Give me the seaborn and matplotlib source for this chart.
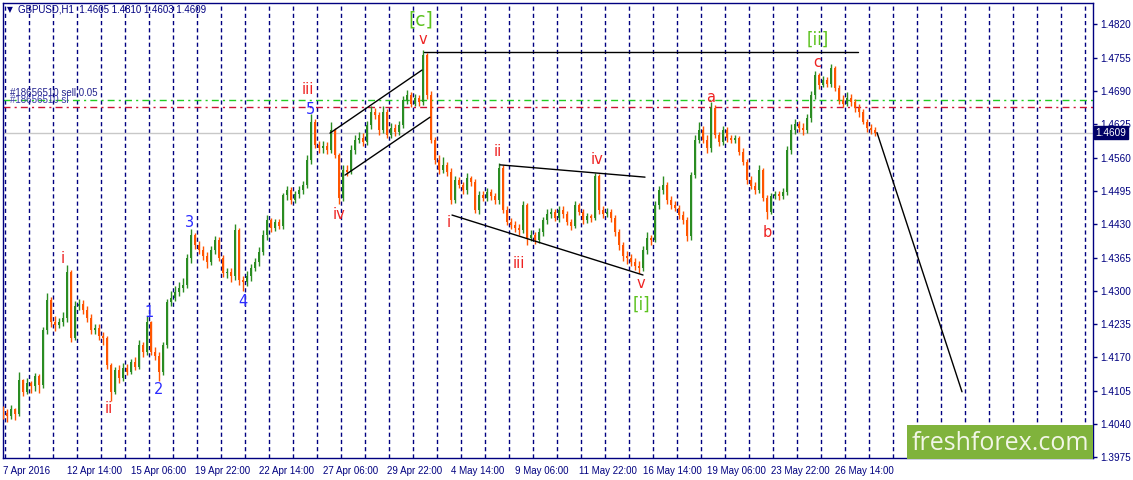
import numpy as np
import pandas as pd
import matplotlib
matplotlib.use("Agg")
import matplotlib.pyplot as plt
from matplotlib.patches import Rectangle
from matplotlib.transforms import blended_transform_factory
import seaborn as sns

# ---------------- data ----------------
# consecutive 4-hour blocks of the GBPUSD H1 chart: close, high, low
closes = [
    1.4062, 1.4056, 1.4069, 1.4060, 1.4126, 1.4103, 1.4120, 1.4114, 1.4134, 1.4116,
    1.4224, 1.4282, 1.4239, 1.4233, 1.4239, 1.4247, 1.4337, 1.4208, 1.4271, 1.4274,
    1.4263, 1.4247, 1.4224, 1.4228, 1.4212, 1.4208, 1.4155, 1.4103, 1.4146, 1.4130,
    1.4149, 1.4142, 1.4161, 1.4151, 1.4194, 1.4181, 1.4239, 1.4181, 1.4173, 1.4142,
    1.4194, 1.4278, 1.4286, 1.4298, 1.4306, 1.4311, 1.4364, 1.4409, 1.4390, 1.4380,
    1.4368, 1.4356, 1.4380, 1.4399, 1.4364, 1.4335, 1.4337, 1.4329, 1.4419, 1.4321,
    1.4317, 1.4329, 1.4345, 1.4356, 1.4376, 1.4409, 1.4438, 1.4423, 1.4434, 1.4427,
    1.4487, 1.4497, 1.4477, 1.4489, 1.4497, 1.4507, 1.4555, 1.4630, 1.4585, 1.4579,
    1.4583, 1.4575, 1.4614, 1.4565, 1.4481, 1.4536, 1.4532, 1.4575, 1.4595, 1.4598,
    1.4591, 1.4624, 1.4649, 1.4643, 1.4614, 1.4649, 1.4604, 1.4618, 1.4610, 1.4624,
    1.4673, 1.4682, 1.4665, 1.4677, 1.4669, 1.4760, 1.4682, 1.4595, 1.4555, 1.4536,
    1.4546, 1.4532, 1.4477, 1.4516, 1.4507, 1.4497, 1.4520, 1.4513, 1.4458, 1.4487,
    1.4481, 1.4493, 1.4485, 1.4477, 1.4540, 1.4458, 1.4434, 1.4429, 1.4423, 1.4419,
    1.4468, 1.4403, 1.4409, 1.4399, 1.4415, 1.4438, 1.4450, 1.4454, 1.4442, 1.4458,
    1.4450, 1.4434, 1.4427, 1.4468, 1.4454, 1.4438, 1.4446, 1.4442, 1.4524, 1.4458,
    1.4450, 1.4454, 1.4442, 1.4415, 1.4390, 1.4368, 1.4364, 1.4356, 1.4349, 1.4345,
    1.4380, 1.4403, 1.4399, 1.4468, 1.4497, 1.4507, 1.4477, 1.4468, 1.4462, 1.4448,
    1.4438, 1.4407, 1.4526, 1.4595, 1.4614, 1.4595, 1.4579, 1.4657, 1.4604, 1.4591,
    1.4614, 1.4598, 1.4595, 1.4598, 1.4571, 1.4552, 1.4516, 1.4505, 1.4497, 1.4536,
    1.4481, 1.4454, 1.4485, 1.4489, 1.4485, 1.4493, 1.4575, 1.4614, 1.4626, 1.4618,
    1.4614, 1.4637, 1.4682, 1.4721, 1.4702, 1.4712, 1.4704, 1.4735, 1.4696, 1.4673,
    1.4665, 1.4677, 1.4669, 1.4657, 1.4649, 1.4630, 1.4618, 1.4614, 1.4609,
]
highs = [
    1.4075, 1.4070, 1.4078, 1.4072, 1.4142, 1.4128, 1.4130, 1.4125, 1.4140, 1.4138,
    1.4230, 1.4295, 1.4288, 1.4250, 1.4248, 1.4258, 1.4350, 1.4340, 1.4280, 1.4285,
    1.4282, 1.4270, 1.4255, 1.4236, 1.4235, 1.4220, 1.4212, 1.4160, 1.4152, 1.4155,
    1.4160, 1.4158, 1.4168, 1.4170, 1.4205, 1.4200, 1.4250, 1.4242, 1.4190, 1.4180,
    1.4200, 1.4285, 1.4300, 1.4310, 1.4318, 1.4325, 1.4372, 1.4420, 1.4412, 1.4398,
    1.4388, 1.4375, 1.4388, 1.4408, 1.4405, 1.4370, 1.4345, 1.4345, 1.4430, 1.4422,
    1.4330, 1.4338, 1.4352, 1.4365, 1.4385, 1.4418, 1.4448, 1.4442, 1.4440, 1.4440,
    1.4492, 1.4505, 1.4502, 1.4495, 1.4505, 1.4515, 1.4565, 1.4645, 1.4635, 1.4592,
    1.4592, 1.4590, 1.4630, 1.4618, 1.4570, 1.4545, 1.4545, 1.4585, 1.4605, 1.4610,
    1.4608, 1.4632, 1.4660, 1.4656, 1.4650, 1.4660, 1.4655, 1.4628, 1.4625, 1.4632,
    1.4680, 1.4692, 1.4688, 1.4684, 1.4682, 1.4770, 1.4765, 1.4690, 1.4600, 1.4565,
    1.4562, 1.4552, 1.4540, 1.4525, 1.4522, 1.4512, 1.4530, 1.4525, 1.4518, 1.4495,
    1.4495, 1.4500, 1.4498, 1.4492, 1.4550, 1.4545, 1.4465, 1.4442, 1.4436, 1.4430,
    1.4475, 1.4472, 1.4418, 1.4415, 1.4422, 1.4445, 1.4460, 1.4462, 1.4460, 1.4466,
    1.4465, 1.4456, 1.4440, 1.4476, 1.4472, 1.4460, 1.4452, 1.4450, 1.4530, 1.4528,
    1.4465, 1.4462, 1.4460, 1.4448, 1.4420, 1.4395, 1.4378, 1.4372, 1.4365, 1.4358,
    1.4388, 1.4415, 1.4410, 1.4475, 1.4505, 1.4525, 1.4512, 1.4485, 1.4475, 1.4468,
    1.4455, 1.4445, 1.4532, 1.4605, 1.4630, 1.4622, 1.4605, 1.4668, 1.4662, 1.4610,
    1.4622, 1.4620, 1.4604, 1.4605, 1.4603, 1.4578, 1.4558, 1.4525, 1.4512, 1.4545,
    1.4540, 1.4488, 1.4492, 1.4495, 1.4494, 1.4500, 1.4582, 1.4625, 1.4636, 1.4632,
    1.4628, 1.4645, 1.4690, 1.4730, 1.4725, 1.4720, 1.4718, 1.4742, 1.4738, 1.4702,
    1.4682, 1.4688, 1.4685, 1.4675, 1.4665, 1.4655, 1.4636, 1.4625, 1.4620,
]
lows = [
    1.4050, 1.4045, 1.4050, 1.4048, 1.4055, 1.4095, 1.4098, 1.4100, 1.4105, 1.4100,
    1.4110, 1.4215, 1.4230, 1.4222, 1.4228, 1.4232, 1.4240, 1.4200, 1.4205, 1.4262,
    1.4255, 1.4240, 1.4215, 1.4215, 1.4205, 1.4195, 1.4148, 1.4085, 1.4098, 1.4120,
    1.4125, 1.4135, 1.4138, 1.4145, 1.4148, 1.4170, 1.4175, 1.4175, 1.4165, 1.4125,
    1.4135, 1.4188, 1.4270, 1.4280, 1.4290, 1.4298, 1.4305, 1.4355, 1.4382, 1.4372,
    1.4360, 1.4345, 1.4350, 1.4372, 1.4358, 1.4328, 1.4325, 1.4318, 1.4322, 1.4312,
    1.4300, 1.4310, 1.4320, 1.4338, 1.4348, 1.4370, 1.4400, 1.4415, 1.4416, 1.4420,
    1.4420, 1.4478, 1.4470, 1.4472, 1.4482, 1.4490, 1.4500, 1.4548, 1.4578, 1.4570,
    1.4570, 1.4568, 1.4570, 1.4560, 1.4470, 1.4475, 1.4525, 1.4528, 1.4568, 1.4588,
    1.4582, 1.4585, 1.4615, 1.4635, 1.4605, 1.4608, 1.4598, 1.4598, 1.4602, 1.4604,
    1.4618, 1.4665, 1.4658, 1.4660, 1.4660, 1.4662, 1.4675, 1.4588, 1.4548, 1.4528,
    1.4530, 1.4525, 1.4470, 1.4472, 1.4500, 1.4490, 1.4490, 1.4505, 1.4452, 1.4450,
    1.4475, 1.4476, 1.4478, 1.4470, 1.4470, 1.4452, 1.4428, 1.4420, 1.4415, 1.4410,
    1.4412, 1.4390, 1.4398, 1.4392, 1.4393, 1.4408, 1.4430, 1.4442, 1.4436, 1.4435,
    1.4442, 1.4428, 1.4418, 1.4422, 1.4448, 1.4430, 1.4432, 1.4435, 1.4438, 1.4450,
    1.4442, 1.4444, 1.4435, 1.4408, 1.4380, 1.4358, 1.4352, 1.4348, 1.4340, 1.4335,
    1.4338, 1.4372, 1.4390, 1.4395, 1.4460, 1.4490, 1.4470, 1.4460, 1.4455, 1.4440,
    1.4430, 1.4398, 1.4400, 1.4520, 1.4588, 1.4588, 1.4570, 1.4572, 1.4598, 1.4582,
    1.4585, 1.4590, 1.4588, 1.4588, 1.4565, 1.4545, 1.4508, 1.4498, 1.4490, 1.4492,
    1.4475, 1.4440, 1.4450, 1.4480, 1.4478, 1.4480, 1.4488, 1.4568, 1.4606, 1.4610,
    1.4605, 1.4608, 1.4630, 1.4675, 1.4695, 1.4698, 1.4698, 1.4698, 1.4690, 1.4665,
    1.4658, 1.4660, 1.4660, 1.4650, 1.4640, 1.4625, 1.4610, 1.4606, 1.4603,
]
first_open = 1.4066
hours_per_candle = 4

date_labels = ["7 Apr 2016", "12 Apr 14:00", "15 Apr 06:00", "19 Apr 22:00",
               "22 Apr 14:00", "27 Apr 06:00", "29 Apr 22:00", "4 May 14:00",
               "9 May 06:00", "11 May 22:00", "16 May 14:00", "19 May 06:00",
               "23 May 22:00", "26 May 14:00"]
date_label_bars = [0, 64, 128, 192, 256, 320, 384, 448, 512, 576, 640, 704, 768, 832]
price_ticks = [1.3975, 1.4040, 1.4105, 1.4170, 1.4235, 1.4300, 1.4365,
               1.4430, 1.4495, 1.4560, 1.4625, 1.4690, 1.4755, 1.4820]
day_separator_bars = list(range(2, 1090, 24))

order_price = 1.4673
sl_price = 1.4659
last_price = 1.4609
title_text = "GBPUSD,H1  1.4605 1.4810 1.4603 1.4609"

# wave mark-up lines: (bar, price) pairs
top_line_bars = [421, 855]
top_line_prices = [1.4766, 1.4766]
channel_up_bars = [327, 419]
channel_up_prices = [1.4608, 1.4731]
channel_lo_bars = [342, 427]
channel_lo_prices = [1.4526, 1.4639]
tri_up_bars = [497, 642]
tri_up_prices = [1.4546, 1.4522]
tri_lo_bars = [449, 640]
tri_lo_prices = [1.4448, 1.4331]
proj_bars = [874, 959]
proj_prices = [1.4609, 1.4103]

wave_texts = ["[c]", "v", "iii", "5", "iv", "i", "ii", "1", "2", "3", "4",
              "i", "ii", "iii", "iv", "v", "[i]", "a", "b", "c", "[ii]"]
wave_bars = [418, 420, 305, 307, 336, 60, 106, 146, 156, 187, 240,
             446, 495, 516, 594, 638, 638, 708, 764, 814, 815]
wave_prices = [1.4829, 1.4790, 1.4694, 1.4655, 1.4450, 1.4364, 1.4071, 1.4257,
               1.4108, 1.4434, 1.4280, 1.4434, 1.4573, 1.4353, 1.4556, 1.4315,
               1.4272, 1.4678, 1.4413, 1.4745, 1.4790]

# ---------------- styling ----------------
NAVY = "#000080"
UP = "#2a8c22"
DOWN = "#ff5500"
RED = "#ee2222"
BLUE = "#2b2bff"
LGREEN = "#5cc21e"
wave_colors = {"[c]": LGREEN, "[i]": LGREEN, "[ii]": LGREEN,
               "1": BLUE, "2": BLUE, "3": BLUE, "4": BLUE, "5": BLUE}
wave_sizes = {"[c]": 13.5, "[i]": 12, "[ii]": 12}

sns.set_theme(style="white")
plt.rcParams["font.family"] = ["Liberation Sans", "DejaVu Sans"]

fig = plt.figure(figsize=(11.33, 4.8), dpi=100)
ax = fig.add_axes([3 / 1133, 22 / 480, 1090 / 1133, 455 / 480])
ax.set_facecolor("white")

# candles
df = pd.DataFrame({"close": closes, "high": highs, "low": lows})
df["open"] = [first_open] + closes[:-1]
df["bar"] = np.arange(len(df)) * hours_per_candle
diff = df["close"] - df["open"]
df["body"] = diff.where(diff.abs() > 0.00008, 0.00008)
df["color"] = np.where(df["close"] >= df["open"], UP, DOWN)

# day separators
for b in day_separator_bars:
    ax.axvline(b, color=NAVY, lw=1.0, dashes=(3, 2.2), zorder=1)

ax.axhline(last_price, color="#c8c8c8", lw=1.0, zorder=1)
ax.axhline(order_price, color="#22cc22", lw=1.0, dashes=(5, 3, 1.5, 3), zorder=1)
ax.axhline(sl_price, color="#cc1133", lw=1.0, dashes=(5, 3, 1.5, 3), zorder=1)

ax.vlines(df["bar"], df["low"], df["high"], colors=df["color"], lw=1.0, zorder=3)
ax.bar(df["bar"], df["body"], bottom=df["open"], width=2.8, color=df["color"],
       linewidth=0, zorder=3)

# mark-up lines
for xs, ys in [(top_line_bars, top_line_prices), (channel_up_bars, channel_up_prices),
               (channel_lo_bars, channel_lo_prices), (tri_up_bars, tri_up_prices),
               (tri_lo_bars, tri_lo_prices), (proj_bars, proj_prices)]:
    sns.lineplot(x=xs, y=ys, ax=ax, color="black", lw=1.0, zorder=4)

for t, b, p in zip(wave_texts, wave_bars, wave_prices):
    ax.text(b, p, t, color=wave_colors.get(t, RED), fontsize=wave_sizes.get(t, 10.5),
            ha="center", va="center", family="DejaVu Sans", zorder=5)

# order texts
ax.text(7, 1.4686, "#18656510 sell 0.05", color="#23238e", fontsize=7, va="center", zorder=5)
ax.text(7, 1.4672, "#18656510 sl", color="#3a3aa8", fontsize=7, va="center", zorder=5)

# title
ax.text(0.004, 0.985, "\u25bc", transform=ax.transAxes, fontsize=5.5, color=NAVY,
        va="center", family="DejaVu Sans")
ax.text(0.0138, 0.985, title_text, transform=ax.transAxes, fontsize=7, color=NAVY,
        va="center")

# axes
ax.set_xlim(0, 1090)
ax.set_ylim(1.39738, 1.48619)
ax.yaxis.tick_right()
ax.set_yticks(price_ticks)
ax.set_yticklabels([f"{p:.4f}" for p in price_ticks])
ax.set_xticks(date_label_bars)
ax.set_xticklabels(date_labels, ha="left")
ax.tick_params(axis="both", colors=NAVY, labelcolor=NAVY, labelsize=7.2, length=3,
               width=1, direction="out", pad=2)
ax.tick_params(axis="x", pad=3, labelsize=7)
for s in ax.spines.values():
    s.set_color(NAVY)
    s.set_linewidth(1.0)
ax.set_xlabel("")
ax.set_ylabel("")
ax.grid(False)

# current price box
tr = blended_transform_factory(ax.transAxes, ax.transData)
ax.text(1.002, last_price, "1.4609", transform=tr, color="white", fontsize=7.2,
        va="center", ha="left",
        bbox=dict(boxstyle="square,pad=0.15", facecolor="#000066", edgecolor="#000066"),
        zorder=6, clip_on=False)

# logo
fig.patches.append(Rectangle((907 / 1133, 21 / 480), 186 / 1133, 34 / 480,
                             transform=fig.transFigure, facecolor="#80b33c",
                             edgecolor="none", zorder=10))
fig.text(1000 / 1133, 37 / 480, "freshforex.com", color="#f2f6e6", fontsize=18,
         family="Open Sans", ha="center", va="center", zorder=11)

fig.savefig("out.png", dpi=100)
